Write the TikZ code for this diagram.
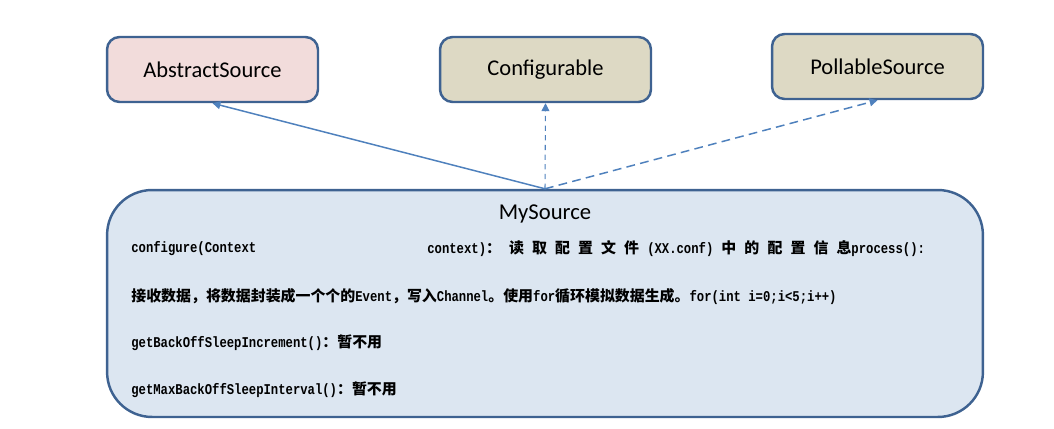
\documentclass[tikz,border=0pt]{standalone}
\usepackage{fontspec}
\setmainfont{Carlito}
\setmonofont{Liberation Mono}[FakeStretch=0.82]
\newfontfamily\cjk{Noto Sans CJK SC}
\usetikzlibrary{arrows.meta}

\definecolor{boxline}{RGB}{62,98,145}
\definecolor{arrowblue}{RGB}{79,129,189}
\definecolor{pinkfill}{RGB}{242,220,219}
\definecolor{tanfill}{RGB}{221,217,196}
\definecolor{bluefill}{RGB}{220,230,241}

\newcommand{\cgap}{\hspace{4.6pt}}

\tikzset{
	iface/.style={draw=boxline, line width=1.4pt, rounded corners=0.25cm, minimum width=4.22cm, minimum height=1.3cm, font=\fontsize{12.8}{15}\selectfont},
	impl/.style={draw=boxline, line width=1.4pt, rounded corners=0.9cm, fill=bluefill, minimum width=17.52cm, minimum height=4.54cm},
	code/.style={anchor=west, inner sep=0pt, font=\ttfamily\bfseries\fontsize{8.5}{10}\selectfont},
}

\begin{document}
\begin{tikzpicture}[x=0.02cm, y=-0.02cm, >={Triangle[length=4.5pt,width=4.5pt]}]
	\useasboundingbox (0, 0) rectangle (1054, 429);
	\draw node[iface, fill=pinkfill] at (212.5, 69.5) (abstract) {AbstractSource};
	\draw node[iface, fill=tanfill] at (545.5, 69.5) (configurable) {Configurable};
	\draw node[iface, fill=tanfill] at (877.5, 66.5) (pollable) {PollableSource};
	\draw node[impl] at (545, 303.5) (mysource) {};
	\draw node[font=\fontsize{12.9}{15}\selectfont] at (545, 214) (title) {MySource};

	\draw node[code] at (131, 249) (conf) {configure(Context};
	\draw node[code] at (427, 249) (confctx) {context){\cjk ：\cgap 读\cgap 取\cgap 配\cgap 置\cgap 文\cgap 件}\cgap (XX.conf)\cgap{\cjk 中\cgap 的\cgap 配\cgap 置\cgap 信\cgap 息}process():};
	\draw node[code] at (131, 297) (proc) {{\cjk 接收数据，将数据封装成一个个的}Event{\cjk ，写入}Channel{\cjk 。使用}for{\cjk 循环模拟数据生成。}for(int i=0;i<5;i++)};
	\draw node[code] at (131, 343) (incr) {getBackOffSleepIncrement(){\cjk ：暂不用}};
	\draw node[code] at (131, 390) (intv) {getMaxBackOffSleepInterval(){\cjk ：暂不用}};

	\draw [->, arrowblue, line width=0.85pt]   (mysource.north) -- (abstract.south);
	\draw [->, arrowblue, line width=0.6pt, dash pattern=on 3pt off 2.5pt]   (mysource.north) -- (configurable.south);
	\draw [->, arrowblue, line width=0.85pt, dash pattern=on 5pt off 3pt]   (mysource.north) -- (pollable.south);
\end{tikzpicture}
\end{document}
